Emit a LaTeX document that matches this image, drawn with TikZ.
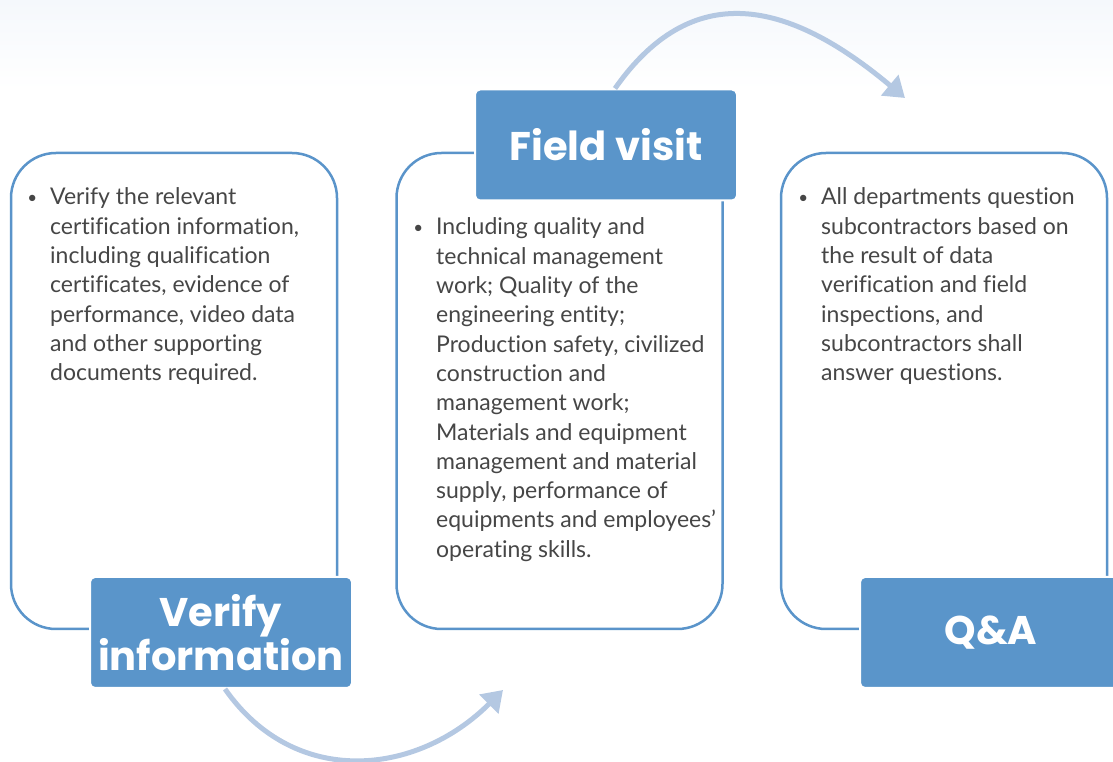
\documentclass[tikz,border=0pt]{standalone}
\usepackage{fontspec}
\setmainfont{Lato}[Ligatures={NoCommon}]
\newfontfamily\headfont{Poppins}
\usetikzlibrary{arrows.meta}
\definecolor{outl}{HTML}{5A94CA}
\definecolor{tfill}{HTML}{5A95CA}
\definecolor{arr}{HTML}{B4C8E2}
\definecolor{txt}{HTML}{464646}
\definecolor{topbg}{HTML}{F5F8FC}
\newcommand{\bodypar}[1]{\parbox[t]{300pt}{\fontsize{23}{29.3}\selectfont\raggedright #1\par}}
\newcommand{\bul}{\leavevmode\llap{\raisebox{1.5pt}{\fontsize{17}{17}\selectfont\textbullet}\hspace{13pt}}}
\begin{document}
\begin{tikzpicture}[x=1pt,y=1pt,
 panel/.style={draw=outl, line width=2.5pt, rounded corners=45pt, minimum width=326pt, minimum height=476pt, inner sep=0pt, fill=white},
 headbox/.style={fill=tfill, draw=white, line width=2pt, rounded corners=5pt, minimum width=262pt, minimum height=111pt, inner sep=0pt, text=white, font=\headfont\fontsize{40}{40}\selectfont\bfseries, align=center},
 bodytxt/.style={anchor=base west, inner sep=0pt, text=txt},
 flow/.style={draw=arr, line width=5pt, -{Triangle[length=20pt,width=26pt]}}
]
\useasboundingbox (0,0) rectangle (1113,762);
\shade[top color=topbg, bottom color=white, draw=none] (0,672) rectangle (1113,762);

\node[panel] (p1) at (174,371) {};
\node[panel] (p2) at (559.5,371) {};
\node[panel] (p3) at (944,371) {};

\node[headbox] (v) at (221,129.5) {Verify\\information};
\node[headbox] (f) at (606,617) {Field visit};
\node[headbox] (q) at (991,129.5) {Q\&A};

\node[bodytxt] (t1) at (50,557) {\bodypar{\bul Verify the relevant\\
certification information,\\
including qualification\\
certificates, evidence of\\
performance, video data\\
and other supporting\\
documents required.}};

\node[bodytxt] (t2) at (436,527) {\bodypar{\bul Including quality and\\
technical management\\
work; Quality of the\\
engineering entity;\\
Production safety, civilized\\
construction and\\
management work;\\
Materials and equipment\\
management and material\\
supply, performance of\\
equipments and employees’\\
operating skills.}};

\node[bodytxt] (t3) at (821,557) {\bodypar{\bul All departments question\\
subcontractors based on\\
the result of data\\
verification and field\\
inspections, and\\
subcontractors shall\\
answer questions.}};

\coordinate (e1) at (503,72);
\coordinate (e2) at (905,664);
\draw[flow] ([xshift=4pt]v.south) to[out=-55, in=-135, looseness=1.12] (e1);
\draw[flow] ([xshift=9pt]f.north) to[out=55, in=140, looseness=1.25] (e2);
\end{tikzpicture}
\end{document}
